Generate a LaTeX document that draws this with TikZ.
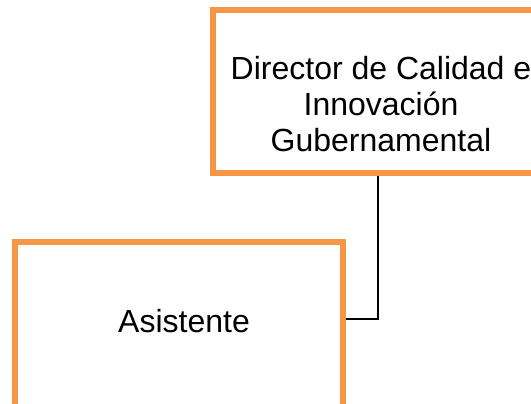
\documentclass[tikz,border=0pt]{standalone}
\usepackage{fontspec}
\setmainfont{Liberation Sans}
\definecolor{boxorange}{HTML}{F79646}
\tikzset{
  orgbox/.style={draw=boxorange, line width=5.5pt, fill=white, inner sep=0pt},
  orgtext/.style={align=center, inner sep=0pt, font=\fontsize{32}{36}\selectfont},
  conn/.style={draw=black, line width=1.5pt}
}
\begin{document}
\begin{tikzpicture}[x=1pt, y=-1pt]

\def\xd{381}; % director centre
\def\yd{91.5};
\def\xa{179}; % assistant centre
\def\ya{332};

\useasboundingbox (0,0) rectangle (531,404);
\clip (0,0) rectangle (531,404);

\node[orgbox, minimum width=336pt, minimum height=163pt] (dir) at (\xd, \yd) {};
\node[orgbox, minimum width=328pt, minimum height=180pt] (asis) at (\xa, \ya) {};

\node[orgtext] (dirtext) at (\xd, \yd + 12.5) {Director de Calidad e\\Innovación\\Gubernamental};
\node[orgtext] (asistext) at (\xa + 5, \ya - 11) {Asistente};

\draw[conn] ([xshift=-3pt]dir.south) |- ([yshift=13pt]asis.east);

\end{tikzpicture}
\end{document}
